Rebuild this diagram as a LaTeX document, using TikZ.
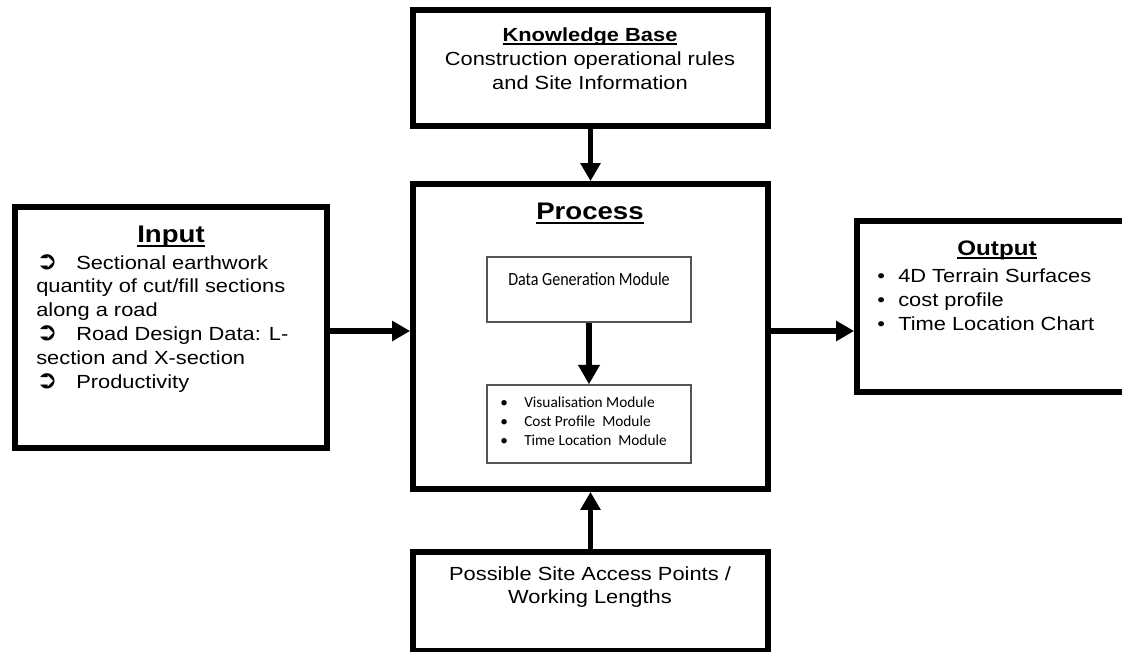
\documentclass[tikz,border=0pt]{standalone}
\usepackage{fontspec}
\setmainfont{Liberation Sans}[FakeStretch=1.15]
\newfontfamily\calfont{Carlito}
\newfontfamily\calnarrow{Carlito}[FakeStretch=0.86]
\newfontfamily\dvfont{DejaVu Sans}
\usetikzlibrary{arrows.meta}
\definecolor{innergray}{RGB}{85,85,85}
\newcommand\ulbox[1]{\setbox0\hbox{#1}\rlap{\rule[-0.2em]{\wd0}{0.085em}}\box0}
\newcommand\arrsym{\makebox[30pt][l]{\dvfont\fontsize{19pt}{19pt}\selectfont ➲}}
\begin{document}
\begin{tikzpicture}[x=0.75pt,y=-0.75pt,
  box/.style={draw, line width=4.3pt, inner sep=0pt},
  inbox/.style={draw=innergray, line width=1.1pt, inner sep=0pt, minimum width=153pt},
  conn/.style={line width=4.3pt, -{Triangle[width=14.5pt,length=13.5pt]}},
  inconn/.style={line width=5pt, -{Triangle[width=15.5pt,length=14.5pt]}},
  body/.style={font=\fontsize{14.25pt}{17pt}\selectfont, inner sep=0pt, anchor=base west},
  bodyc/.style={font=\fontsize{14.25pt}{17pt}\selectfont, inner sep=0pt, anchor=base},
  bigtitle/.style={font=\fontsize{18pt}{21pt}\selectfont\bfseries, inner sep=0pt, anchor=base},
  outtitle/.style={font=\fontsize{15.75pt}{19pt}\selectfont\bfseries, inner sep=0pt, anchor=base},
  kbtitle/.style={font=\fontsize{14.25pt}{17pt}\selectfont\bfseries, inner sep=0pt, anchor=base},
  modtext/.style={font=\calfont\fontsize{11.5pt}{14pt}\selectfont, inner sep=0pt, anchor=base west},
  dgtext/.style={font=\calnarrow\fontsize{14pt}{16pt}\selectfont, inner sep=0pt, anchor=base}
]
\useasboundingbox (0,0) rectangle (1122,651);
\clip (0,0) rectangle (1122,651);
\fill[white] (0,0) rectangle (1122,651);

% boxes
\node[box, minimum width=234pt, minimum height=180.75pt] (input) at (171,327.5) {};
\node[box, minimum width=266.25pt, minimum height=87pt] (kb) at (590.5,68) {};
\node[box, minimum width=266.25pt, minimum height=228.75pt] (process) at (590.5,336.5) {};
\node[box, minimum width=201pt, minimum height=128.25pt] (output) at (991,306.5) {};
\node[box, minimum width=266.25pt, minimum height=74.25pt] (bottom) at (590.5,601.5) {};
\node[inbox, minimum height=48.75pt] (datagen) at (589,289.5) {};
\node[inbox, minimum height=58.5pt] (modules) at (589,424) {};

% connectors
\coordinate (inY) at (0,331);
\coordinate (outY) at (0,331);
\draw[conn] (input.east |- inY) -- (process.west |- inY);
\draw[conn] (process.east |- outY) -- (output.west |- outY);
\draw[conn] (kb.south) -- (process.north);
\draw[conn] (bottom.north) -- (process.south);
\draw[inconn] (datagen.south) -- (modules.north);

% Input texts
\node[bigtitle] (inT) at (171,242) {\ulbox{Input}};
\node[body] (in1) at (36,269) {\arrsym Sectional earthwork};
\node[body] (in2) at (36,292.8) {quantity of cut/fill sections};
\node[body] (in3) at (36,316.6) {along a road};
\node[body] (in4) at (36,340.4) {\arrsym Road Design Data: L-};
\node[body] (in5) at (36,364.2) {section and X-section};
\node[body] (in6) at (36,388) {\arrsym Productivity};

% Knowledge base texts
\node[kbtitle] (kbT) at (590,41) {\ulbox{Knowledge Base}};
\node[bodyc] (kb1) at (590,65) {Construction operational rules};
\node[bodyc] (kb2) at (590,89) {and Site Information};

% Process texts
\node[bigtitle] (prT) at (590,219) {\ulbox{Process}};
\node[dgtext] (dg) at (589,285) {Data Generation Module};
\node[modtext] (m1) at (500,407) {\makebox[18pt][l]{•}Visualisation Module};
\node[modtext] (m2) at (500,426) {\makebox[18pt][l]{•}Cost Profile~ Module};
\node[modtext] (m3) at (500,445) {\makebox[18pt][l]{•}Time Location~ Module};

% Output texts
\node[outtitle] (outT) at (997,255) {\ulbox{Output}};
\node[body] (o1) at (877,282) {\makebox[15.75pt][l]{•}4D Terrain Surfaces};
\node[body] (o2) at (877,306) {\makebox[15.75pt][l]{•}cost profile};
\node[body] (o3) at (877,330) {\makebox[15.75pt][l]{•}Time Location Chart};

% Bottom texts
\node[bodyc] (b1) at (590,580) {Possible Site Access Points /};
\node[bodyc] (b2) at (590,603) {Working Lengths};
\end{tikzpicture}
\end{document}
